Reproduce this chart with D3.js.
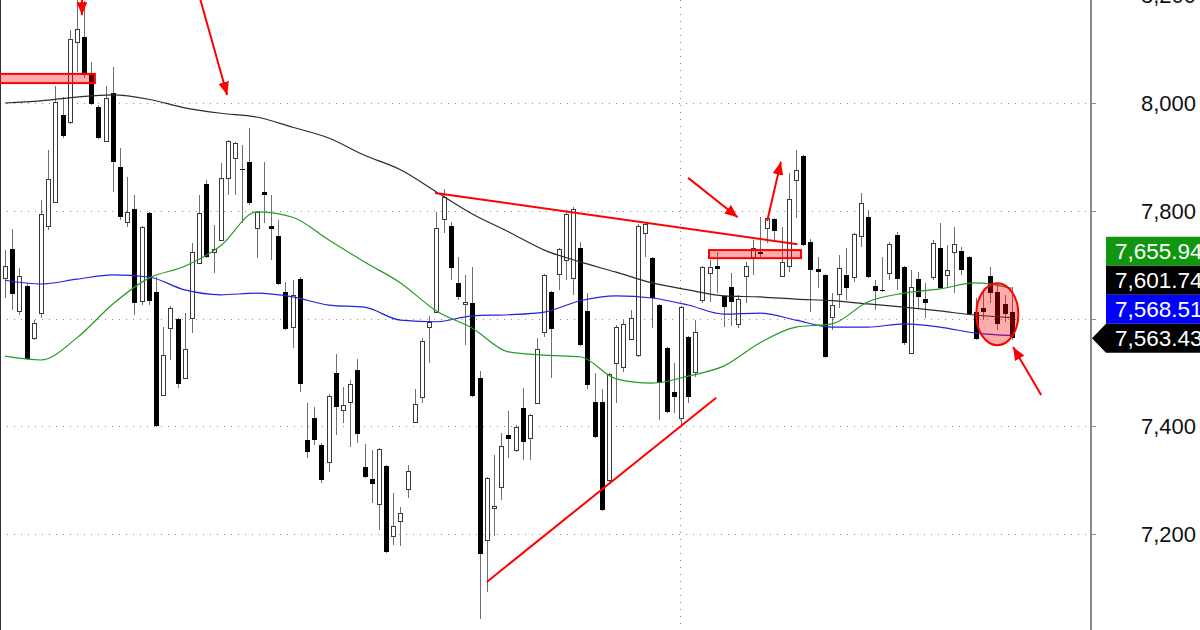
<!DOCTYPE html>
<meta charset="utf-8">
<style>
    body { margin: 0; background: #fff; }
    svg { display: block; font-family: "Liberation Sans", Arial, sans-serif; }
    .grid line { stroke: #8c8c8c; stroke-dasharray: 1,6; shape-rendering: crispEdges; }
    .wick { stroke: #707070; stroke-width: 1; shape-rendering: crispEdges; }
    .ma { fill: none; stroke-width: 1.2; }
    .axis-label { font-size: 22px; fill: #111; }
    .tag text { font-size: 22.5px; fill: #fff; }
    .red { stroke: #f00; stroke-width: 2; fill: none; }
    .zone { stroke: #f00; stroke-width: 2; fill: rgba(255,0,0,0.33); }
</style>
<svg id="chart" width="1200" height="630"></svg>
<script src="https://cdn.jsdelivr.net/npm/d3@7"></script>
<script>

    // daily candles, oldest first
    var openVals = [
        7675, 7729, 7614, 7660, 7564, 7610, 7772, 7816, 7978, 7965,
        8113, 8123, 8056, 7993, 7930, 8019, 7881, 7779, 7803, 7633,
        7796, 7649, 7458, 7582, 7599, 7490, 7601, 7703, 7850, 7724,
        7746, 7861, 7898, 7878, 7891, 7768, 7835, 7772, 7753, 7649,
        7584, 7673, 7375, 7415, 7365, 7334, 7499, 7430, 7445, 7504,
        7324, 7302, 7256, 7326, 7196, 7224, 7284, 7408, 7454, 7584,
        7612, 7785, 7772, 7666, 7627, 7629, 7490, 7189, 7248, 7287,
        7384, 7356, 7434, 7378, 7443, 7575, 7649, 7683, 7709, 7675,
        7731, 7614, 7445, 7445, 7300, 7517, 7510, 7562, 7532, 7759,
        7712, 7625, 7545, 7464, 7415, 7566, 7501, 7634, 7685, 7698,
        7642, 7659, 7590, 7679, 7714, 7724, 7768, 7785, 7679, 7698,
        7857, 7902, 7742, 7692, 7681, 7603, 7646, 7681, 7677, 7753,
        7788, 7660, 7653, 7685, 7755, 7696, 7536, 7673, 7636, 7677,
        7731, 7681, 7724, 7725, 7714, 7612, 7620, 7679, 7649, 7627,
        7612];
    var highVals = [
        7727, 7766, 7694, 7666, 7597, 7820, 7913, 8032, 8011, 8136,
        8195, 8190, 8076, 7996, 8032, 8067, 7917, 7863, 7829, 7772,
        7798, 7677, 7584, 7623, 7601, 7610, 7740, 7829, 7857, 7774,
        7889, 7931, 7928, 7922, 7954, 7800, 7891, 7829, 7783, 7668,
        7672, 7677, 7443, 7436, 7369, 7460, 7534, 7473, 7486, 7525,
        7367, 7356, 7360, 7328, 7276, 7250, 7328, 7469, 7564, 7605,
        7798, 7840, 7779, 7714, 7681, 7696, 7503, 7306, 7347, 7388,
        7428, 7402, 7471, 7423, 7564, 7683, 7651, 7731, 7801, 7807,
        7742, 7647, 7499, 7469, 7499, 7588, 7597, 7616, 7776, 7777,
        7714, 7627, 7547, 7517, 7623, 7568, 7597, 7698, 7709, 7724,
        7644, 7685, 7644, 7705, 7746, 7788, 7788, 7787, 7770, 7870,
        7913, 7904, 7748, 7714, 7683, 7647, 7718, 7731, 7759, 7833,
        7801, 7672, 7714, 7742, 7761, 7698, 7690, 7686, 7666, 7746,
        7777, 7736, 7770, 7733, 7716, 7638, 7653, 7696, 7666, 7644,
        7659];
    var lowVals = [
        7638, 7616, 7607, 7523, 7560, 7601, 7764, 7814, 7935, 7961,
        8058, 8047, 7996, 7933, 7928, 7835, 7783, 7770, 7607, 7625,
        7625, 7399, 7456, 7523, 7471, 7488, 7573, 7701, 7712, 7685,
        7744, 7829, 7829, 7777, 7811, 7712, 7777, 7709, 7662, 7579,
        7545, 7464, 7341, 7365, 7295, 7315, 7384, 7406, 7362, 7369,
        7304, 7258, 7208, 7165, 7180, 7178, 7267, 7406, 7443, 7517,
        7610, 7759, 7672, 7634, 7551, 7454, 7042, 7092, 7196, 7263,
        7341, 7352, 7337, 7337, 7441, 7566, 7490, 7653, 7672, 7644,
        7549, 7469, 7378, 7243, 7295, 7443, 7501, 7560, 7529, 7714,
        7582, 7412, 7425, 7425, 7402, 7443, 7491, 7629, 7631, 7647,
        7584, 7586, 7582, 7629, 7681, 7714, 7740, 7742, 7677, 7686,
        7787, 7735, 7612, 7657, 7527, 7579, 7620, 7634, 7668, 7733,
        7675, 7616, 7649, 7672, 7653, 7551, 7534, 7618, 7601, 7672,
        7655, 7659, 7647, 7681, 7607, 7560, 7597, 7629, 7579, 7594,
        7561];
    var closeVals = [
        7698, 7646, 7679, 7525, 7592, 7794, 7859, 8002, 7939, 8119,
        8137, 8052, 7998, 7935, 8009, 7891, 7788, 7798, 7629, 7770,
        7633, 7401, 7532, 7620, 7478, 7543, 7724, 7796, 7714, 7729,
        7861, 7930, 7926, 7876, 7814, 7798, 7829, 7766, 7664, 7581,
        7644, 7478, 7352, 7375, 7300, 7456, 7436, 7440, 7478, 7386,
        7306, 7293, 7358, 7167, 7215, 7239, 7317, 7441, 7558, 7594,
        7768, 7826, 7694, 7640, 7631, 7456, 7163, 7304, 7252, 7363,
        7376, 7399, 7371, 7421, 7543, 7681, 7581, 7729, 7794, 7803,
        7551, 7477, 7380, 7245, 7497, 7584, 7590, 7601, 7772, 7776,
        7638, 7480, 7427, 7454, 7621, 7454, 7575, 7696, 7696, 7692,
        7621, 7631, 7636, 7698, 7731, 7720, 7787, 7762, 7705, 7822,
        7876, 7736, 7690, 7686, 7529, 7625, 7694, 7657, 7757, 7814,
        7677, 7651, 7651, 7738, 7673, 7555, 7659, 7640, 7629, 7740,
        7657, 7690, 7738, 7690, 7608, 7562, 7612, 7647, 7590, 7608,
        7563.43];

    // moving averages, read every 5th bar
    var maIdx = [0, 5, 10, 15, 20, 25, 30, 35, 40, 45, 50, 55, 60, 65, 70,
                 75, 80, 85, 90, 95, 100, 105, 110, 115, 120, 125, 130, 135, 140];
    var maSlow = [8000, 8004, 8011, 8015, 8007, 7991, 7981, 7974, 7955, 7935,
                  7903, 7876, 7835, 7794, 7761, 7727, 7705, 7686, 7666, 7653,
                  7642, 7640, 7636, 7633, 7627, 7621, 7614, 7606, 7601.74];
    var maMid = [7671, 7664, 7673, 7681, 7677, 7653, 7644, 7647, 7640, 7625,
                 7621, 7597, 7594, 7605, 7607, 7612, 7633, 7642, 7638, 7625,
                 7608, 7610, 7597, 7584, 7584, 7590, 7584, 7573, 7568.51];
    var maFast = [7530, 7523, 7564, 7627, 7675, 7697, 7735, 7798, 7788, 7746,
                  7705, 7666, 7614, 7582, 7538, 7532, 7529, 7488, 7480, 7493,
                  7512, 7555, 7584, 7590, 7631, 7647, 7655, 7666, 7655.94];

    var priceTicks = [7200, 7400, 7600, 7800, 8000, 8200];
    var tagValues = [7655.94, 7601.74, 7568.51, 7563.43];
    var tagColors = ["#10960f", "#000", "#0000ff", "#000"];

    // annotations in [bar, price] terms
    var zones = [[-2, 12.5, 8037, 8054], [97.9, 110.7, 7712, 7727]];
    var trendLines = [[59.8, 7833, 110.2, 7738], [67.0, 7111, 98.9, 7453]];
    var arrows = [[10.7, 8200, 10.7, 8163], [27.1, 8195, 30.9, 8015],
                  [95.0, 7861, 101.9, 7788], [106.0, 7781, 107.9, 7891],
                  [144.1, 7458, 140.2, 7547]];
    var circled = [138, 7608];

    var svg = d3.select("#chart"),
        plotRight = 1091;

    var x = d3.scaleLinear().domain([0, 140]).range([5, 1011.7]);
    var y = d3.scaleLinear().domain([7200, 8000]).range([534, 103]);
    var fmt = d3.format(",");
    var fmt2 = d3.format(",.2f");

    svg.append("rect").attr("width", 1200).attr("height", 630).attr("fill", "#fff");

    svg.append("defs").append("marker")
        .attr("id", "head")
        .attr("markerUnits", "userSpaceOnUse")
        .attr("viewBox", "0 0 12 10")
        .attr("refX", 12).attr("refY", 5)
        .attr("markerWidth", 13).attr("markerHeight", 11)
        .attr("orient", "auto")
        .append("path")
        .attr("d", "M0,0L12,5L0,10Z")
        .attr("fill", "#f00");

    // grid
    var grid = svg.append("g").attr("class", "grid");
    grid.selectAll("line.h").data(priceTicks)
        .enter().append("line")
        .attr("x1", 0).attr("x2", plotRight)
        .attr("y1", function(d) { return Math.round(y(d)) + 0.5; })
        .attr("y2", function(d) { return Math.round(y(d)) + 0.5; });
    grid.append("line")
        .attr("x1", 680.5).attr("x2", 680.5)
        .attr("y1", 0).attr("y2", 630);

    svg.append("line")
        .attr("x1", 0.5).attr("x2", 0.5).attr("y1", 0).attr("y2", 630)
        .attr("stroke", "#333");

    // candles
    var bars = d3.range(openVals.length).map(function(i) {
        return {i: i, o: openVals[i], h: highVals[i], l: lowVals[i], c: closeVals[i]};
    });

    var candle = svg.append("g").selectAll("g").data(bars).enter().append("g");

    candle.append("line")
        .attr("class", "wick")
        .attr("x1", function(d) { return Math.round(x(d.i)) + 0.5; })
        .attr("x2", function(d) { return Math.round(x(d.i)) + 0.5; })
        .attr("y1", function(d) { return y(d.h); })
        .attr("y2", function(d) { return y(d.l); });

    candle.append("rect")
        .attr("shape-rendering", "crispEdges")
        .attr("x", function(d) { return d.c >= d.o ? Math.round(x(d.i)) - 1.5 : Math.round(x(d.i)) - 2; })
        .attr("width", function(d) { return d.c >= d.o ? 4 : 5; })
        .attr("y", function(d) { return Math.round(y(Math.max(d.o, d.c))) + (d.c >= d.o ? 0.5 : 0); })
        .attr("height", function(d) {
            return Math.max(1, Math.round(y(Math.min(d.o, d.c))) - Math.round(y(Math.max(d.o, d.c))));
        })
        .attr("fill", function(d) { return d.c >= d.o ? "#fff" : "#000"; })
        .attr("stroke", function(d) { return d.c >= d.o ? "#3a3a3a" : "none"; });

    // moving averages
    var line = d3.line()
        .x(function(d) { return x(d[0]); })
        .y(function(d) { return y(d[1]); })
        .curve(d3.curveMonotoneX);

    [[maSlow, "#2b2b2b"], [maMid, "#2222dd"], [maFast, "#239b23"]].forEach(function(s) {
        svg.append("path")
            .attr("class", "ma")
            .attr("stroke", s[1])
            .attr("d", line(maIdx.map(function(idx, k) { return [idx, s[0][k]]; })));
    });

    // annotations
    svg.selectAll("rect.zone").data(zones).enter().append("rect")
        .attr("class", "zone")
        .attr("x", function(d) { return x(d[0]); })
        .attr("width", function(d) { return x(d[1]) - x(d[0]); })
        .attr("y", function(d) { return y(d[3]); })
        .attr("height", function(d) { return y(d[2]) - y(d[3]); });

    svg.selectAll("line.trend").data(trendLines).enter().append("line")
        .attr("class", "red")
        .attr("x1", function(d) { return x(d[0]); })
        .attr("y1", function(d) { return y(d[1]); })
        .attr("x2", function(d) { return x(d[2]); })
        .attr("y2", function(d) { return y(d[3]); });

    svg.selectAll("line.arrow").data(arrows).enter().append("line")
        .attr("class", "red")
        .attr("marker-end", "url(#head)")
        .attr("x1", function(d) { return x(d[0]); })
        .attr("y1", function(d) { return y(d[1]); })
        .attr("x2", function(d) { return x(d[2]); })
        .attr("y2", function(d) { return y(d[3]); });

    svg.append("ellipse")
        .attr("class", "zone")
        .attr("cx", x(circled[0]))
        .attr("cy", y(circled[1]))
        .attr("rx", 21).attr("ry", 31);

    // price axis
    svg.append("line")
        .attr("x1", plotRight).attr("x2", plotRight)
        .attr("y1", 0).attr("y2", 630)
        .attr("stroke", "#8a8a8a").attr("stroke-width", 2);

    var tagH = 29,
        closeY = y(tagValues[3]),
        tagLeft = 1106,
        tagTop = closeY - tagH / 2 - 3 * tagH,
        tagBottom = closeY + tagH / 2;

    var axis = svg.append("g");
    axis.selectAll("line").data(priceTicks).enter().append("line")
        .attr("x1", plotRight + 1).attr("x2", plotRight + 5)
        .attr("y1", function(d) { return Math.round(y(d)) + 0.5; })
        .attr("y2", function(d) { return Math.round(y(d)) + 0.5; })
        .attr("stroke", "#8a8a8a");
    // labels under the value tags are hidden, as in the original
    axis.selectAll("text")
        .data(priceTicks.filter(function(d) { return y(d) < tagTop - 8 || y(d) > tagBottom + 8; }))
        .enter().append("text")
        .attr("class", "axis-label")
        .attr("x", 1196)
        .attr("y", function(d) { return y(d); })
        .attr("dy", "0.36em")
        .attr("text-anchor", "end")
        .text(function(d) { return fmt(d); });

    // last value tags, stacked upward from the close
    var tags = svg.selectAll("g.tag").data(tagValues).enter().append("g").attr("class", "tag");
    tags.append("path")
        .attr("fill", function(d, k) { return tagColors[k]; })
        .attr("d", function(d, k) {
            var top = closeY - tagH / 2 - (3 - k) * tagH;
            if (k === 3) {
                return "M" + (plotRight + 1) + "," + closeY + "L" + tagLeft + "," + top +
                       "H1200V" + (top + tagH) + "H" + tagLeft + "Z";
            }
            return "M" + tagLeft + "," + top + "H1200V" + (top + tagH) + "H" + tagLeft + "Z";
        });
    tags.append("text")
        .attr("x", tagLeft + 9)
        .attr("y", function(d, k) { return closeY - (3 - k) * tagH; })
        .attr("dy", "0.36em")
        .text(function(d) { return fmt2(d); });

</script>
